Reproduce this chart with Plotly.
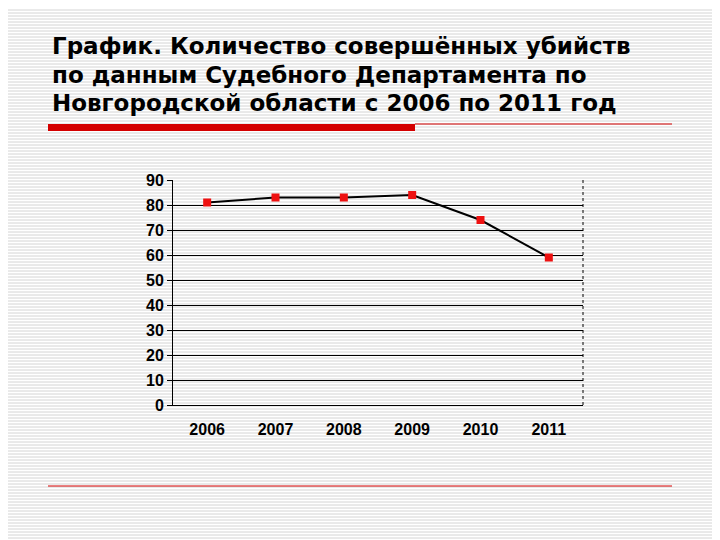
import plotly.graph_objects as go

years = ["2006", "2007", "2008", "2009", "2010", "2011"]
values = [81, 83, 83, 84, 74, 59]
title_lines = ["График. Количество совершённых убийств",
               "по данным Судебного Департамента по",
               "Новгородской области с 2006 по 2011 год"]

W, H = 720, 540
OFF = 8
L, R, T, B = 173 - OFF, 137 + OFF, 180 - OFF, 135 + OFF
ph = H - T - B
pw = W - L - R
def px(x): return (x - OFF - L) / pw
def py(y): return (H - B - (y - OFF)) / ph

shapes = []
for y in range(1, H + 16, 3):
    shapes.append(dict(type="line", xref="paper", yref="paper", x0=px(0), x1=px(W + 16),
                       y0=py(y), y1=py(y), line=dict(color="#d4d4d4", width=1), layer="below"))
shapes.append(dict(type="rect", xref="paper", yref="paper", x0=px(48), x1=px(415),
                   y0=py(131), y1=py(124), fillcolor="#d40000", line=dict(width=0)))
shapes.append(dict(type="line", xref="paper", yref="paper", x0=px(415), x1=px(672),
                   y0=py(124), y1=py(124), line=dict(color="#d40000", width=1)))
shapes.append(dict(type="line", xref="paper", yref="paper", x0=px(48), x1=px(672),
                   y0=py(486), y1=py(486), line=dict(color="#d40000", width=1)))
shapes.append(dict(type="line", xref="paper", yref="paper", x0=1, x1=1, y0=0, y1=1,
                   line=dict(color="black", width=1, dash="dot")))

annotations = []
for i, t in enumerate(title_lines):
    annotations.append(dict(text=t, xref="paper", yref="paper", x=px(50), y=py(46 + 28.5 * i),
                            xanchor="left", yanchor="middle", showarrow=False,
                            font=dict(family="DejaVu Sans", size=23, color="black", weight="bold")))

fig = go.Figure(go.Scatter(x=years, y=values, mode="lines+markers",
                           line=dict(color="black", width=2),
                           marker=dict(symbol="square", size=8, color="#ee1111")))
fig.update_layout(
    width=W, height=H, margin=dict(l=L, r=R, t=T, b=B),
    paper_bgcolor="white", plot_bgcolor="rgba(0,0,0,0)", showlegend=False,
    shapes=shapes, annotations=annotations,
    xaxis=dict(type="category", range=[-0.5, 5.5], showgrid=False, showline=True,
               linecolor="black", ticks="", tickfont=dict(family="Liberation Sans", size=16, color="black", weight="bold"),
               ticklabelstandoff=10),
    yaxis=dict(range=[0, 90], dtick=10, showgrid=True, gridcolor="black", gridwidth=1,
               showline=True, linecolor="black", ticks="outside", ticklen=5, tickcolor="black",
               zeroline=False,
               tickfont=dict(family="Liberation Sans", size=16, color="black", weight="bold")),
)
fig.write_html("out.html")
